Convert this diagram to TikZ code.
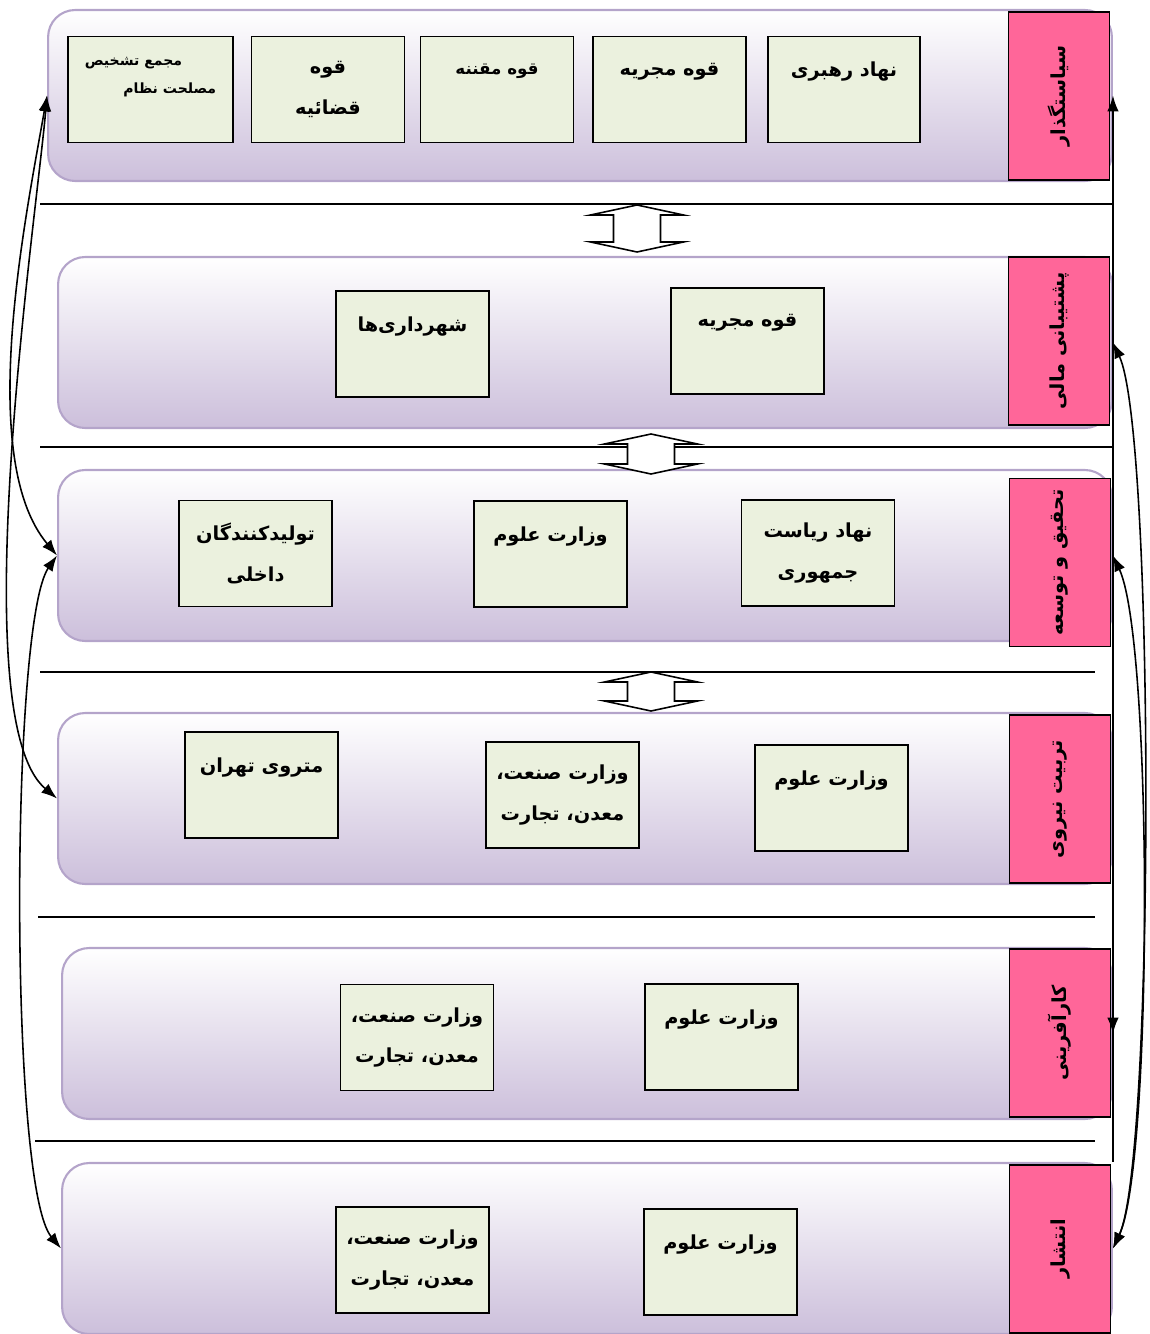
\documentclass[tikz,border=0pt]{standalone}
\usepackage{fontspec}
\newfontfamily\farsi[Script=Arabic]{DejaVu Sans}
\TeXXeTstate=1
\usetikzlibrary{arrows.meta,shadows}
\definecolor{lavande}{RGB}{204,191,219}
\definecolor{bordlav}{RGB}{180,164,202}
\definecolor{vertpale}{RGB}{235,241,222}
\definecolor{rose}{RGB}{255,102,153}
\newcommand\fa[1]{\beginR #1\endR}
\begin{document}
\begin{tikzpicture}[x=0.02cm,y=-0.02cm,
bande/.style={draw=bordlav,line width=1.2pt,rounded corners=0.54cm,top color=white,bottom color=lavande,minimum height=3.42cm},
case/.style={draw,line width=0.8pt,fill=vertpale,minimum width=3.06cm,minimum height=2.12cm,align=center,font=\farsi\bfseries\fontsize{11}{23}\selectfont},
etiquette/.style={draw,line width=0.8pt,fill=rose,rotate=90,minimum width=3.36cm,minimum height=2.02cm,font=\farsi\bfseries\fontsize{11}{16}\selectfont},
lien/.style={-{Latex[length=9pt,width=6.5pt]},line width=0.9pt},
lien2/.style={{Latex[length=9pt,width=6.5pt]}-{Latex[length=9pt,width=6.5pt]},line width=0.9pt},
sep/.style={line width=0.8pt},
fleche/.style={draw,fill=white,line width=0.9pt,line join=miter}]
\useasboundingbox (0,0) rectangle (1149,1334);
% bandes
\node[bande,minimum width=21.28cm] (b1) at (580,95.5) {};
\node[bande,minimum width=21.08cm] (b2) at (585,342.5) {};
\node[bande,minimum width=21.08cm] (b3) at (585,555.5) {};
\node[bande,minimum width=21.08cm] (b4) at (585,798.5) {};
\node[bande,minimum width=21cm] (b5) at (587,1033.5) {};
\node[bande,minimum width=21cm] (b6) at (587,1248.5) {};
% etiquettes
\node[etiquette] (e1) at (1059,96) {\fa{سیاستگذار}};
\node[etiquette] (e2) at (1059,341) {\fa{پشتیبانی مالی}};
\node[etiquette] (e3) at (1060,562.5) {\fa{تحقیق و توسعه}};
\node[etiquette] (e4) at (1060,799) {\fa{تربیت نیروی}};
\node[etiquette] (e5) at (1060,1033) {\fa{کارآفرینی}};
\node[etiquette] (e6) at (1060,1249) {\fa{انتشار}};
% sietgozar
\node[case,minimum width=3.04cm] (rahbari) at (844,89.5) {\fa{نهاد رهبری}\\\mbox{}};
\node[case] (mojrie1) at (669.5,89.5) {\fa{قوه مجریه}\\\mbox{}};
\node[case,font=\farsi\bfseries\fontsize{9.5}{23}\selectfont] (moghanane) at (497,89.5) {\fa{قوه مقننه}\\\mbox{}};
\node[case] (ghazaie) at (328,89.5) {\fa{قوه}\\\fa{قضائیه}};
\node[case,minimum width=3.3cm,align=right,font=\farsi\bfseries\fontsize{8}{16}\selectfont] (majma) at (150.5,89.5) {\fa{مجمع تشخیص}\hspace*{0.68cm}\\\fa{مصلحت نظام}\\\mbox{}};
% poshtibani
\node[case] (mojrie2) at (747.5,341) {\fa{قوه مجریه}\\\mbox{}};
\node[case] (shahrdari) at (412.5,344) {\fa{شهرداری‌ها}\\\mbox{}};
% tahghigh
\node[case] (riasat) at (818,553) {\fa{نهاد ریاست}\\\fa{جمهوری}};
\node[case] (olum3) at (550.5,554) {\fa{وزارت علوم}\\\mbox{}};
\node[case] (tolid) at (255.5,553.5) {\fa{تولیدکنندگان}\\\fa{داخلی}};
% tarbiat
\node[case] (olum4) at (831.5,798) {\fa{وزارت علوم}\\\mbox{}};
\node[case] (sanat4) at (562.5,795) {\fa{وزارت صنعت،}\\\fa{معدن، تجارت}};
\node[case] (metro) at (261.5,785) {\fa{متروی تهران}\\\mbox{}};
% karafarini
\node[case] (olum5) at (721.5,1037) {\fa{وزارت علوم}\\\mbox{}};
\node[case] (sanat5) at (417,1037.5) {\fa{وزارت صنعت،}\\\fa{معدن، تجارت}};
% enteshar
\node[case] (olum6) at (720.5,1262) {\fa{وزارت علوم}\\\mbox{}};
\node[case] (sanat6) at (412.5,1260) {\fa{وزارت صنعت،}\\\fa{معدن، تجارت}};
% separateurs
\draw[sep] (40,204) -- (1112,204);
\draw[sep] (40,447) -- (1112,447);
\draw[sep] (40,672) -- (1095,672);
\draw[sep] (38,917) -- (1095,917);
\draw[sep] (35,1141) -- (1095,1141);
\foreach \xa/\yh/\yb in {637/205/252,651/434/474,651/672/711}
  \draw[fleche] (\xa,\yh) -- (\xa+46.5,\yh+10) -- (\xa+23.5,\yh+10) -- (\xa+23.5,\yb-10)
    -- (\xa+46.5,\yb-10) -- (\xa,\yb) -- (\xa-46.5,\yb-10) -- (\xa-23.5,\yb-10)
    -- (\xa-23.5,\yh+10) -- (\xa-46.5,\yh+10) -- cycle;
% liens
\draw[lien] (b6.north east) -- (b1.east);
\draw[lien] (b4.south east) -- (b5.east);
\draw[lien2] (b6.east) to[out=65,in=-65,looseness=0.28] (b2.east);
\draw[lien2] (b6.east) to[out=65,in=-65,looseness=0.35] (b3.east);
\draw[lien2] (b1.west) to[out=-100,in=130,looseness=0.7] (b3.west);
\draw[lien2] (b1.west) to[out=-95,in=140,looseness=0.45] (b4.west);
\draw[lien2] (b6.west) to[out=130,in=-125,looseness=0.3] (b3.west);
\end{tikzpicture}
\end{document}
